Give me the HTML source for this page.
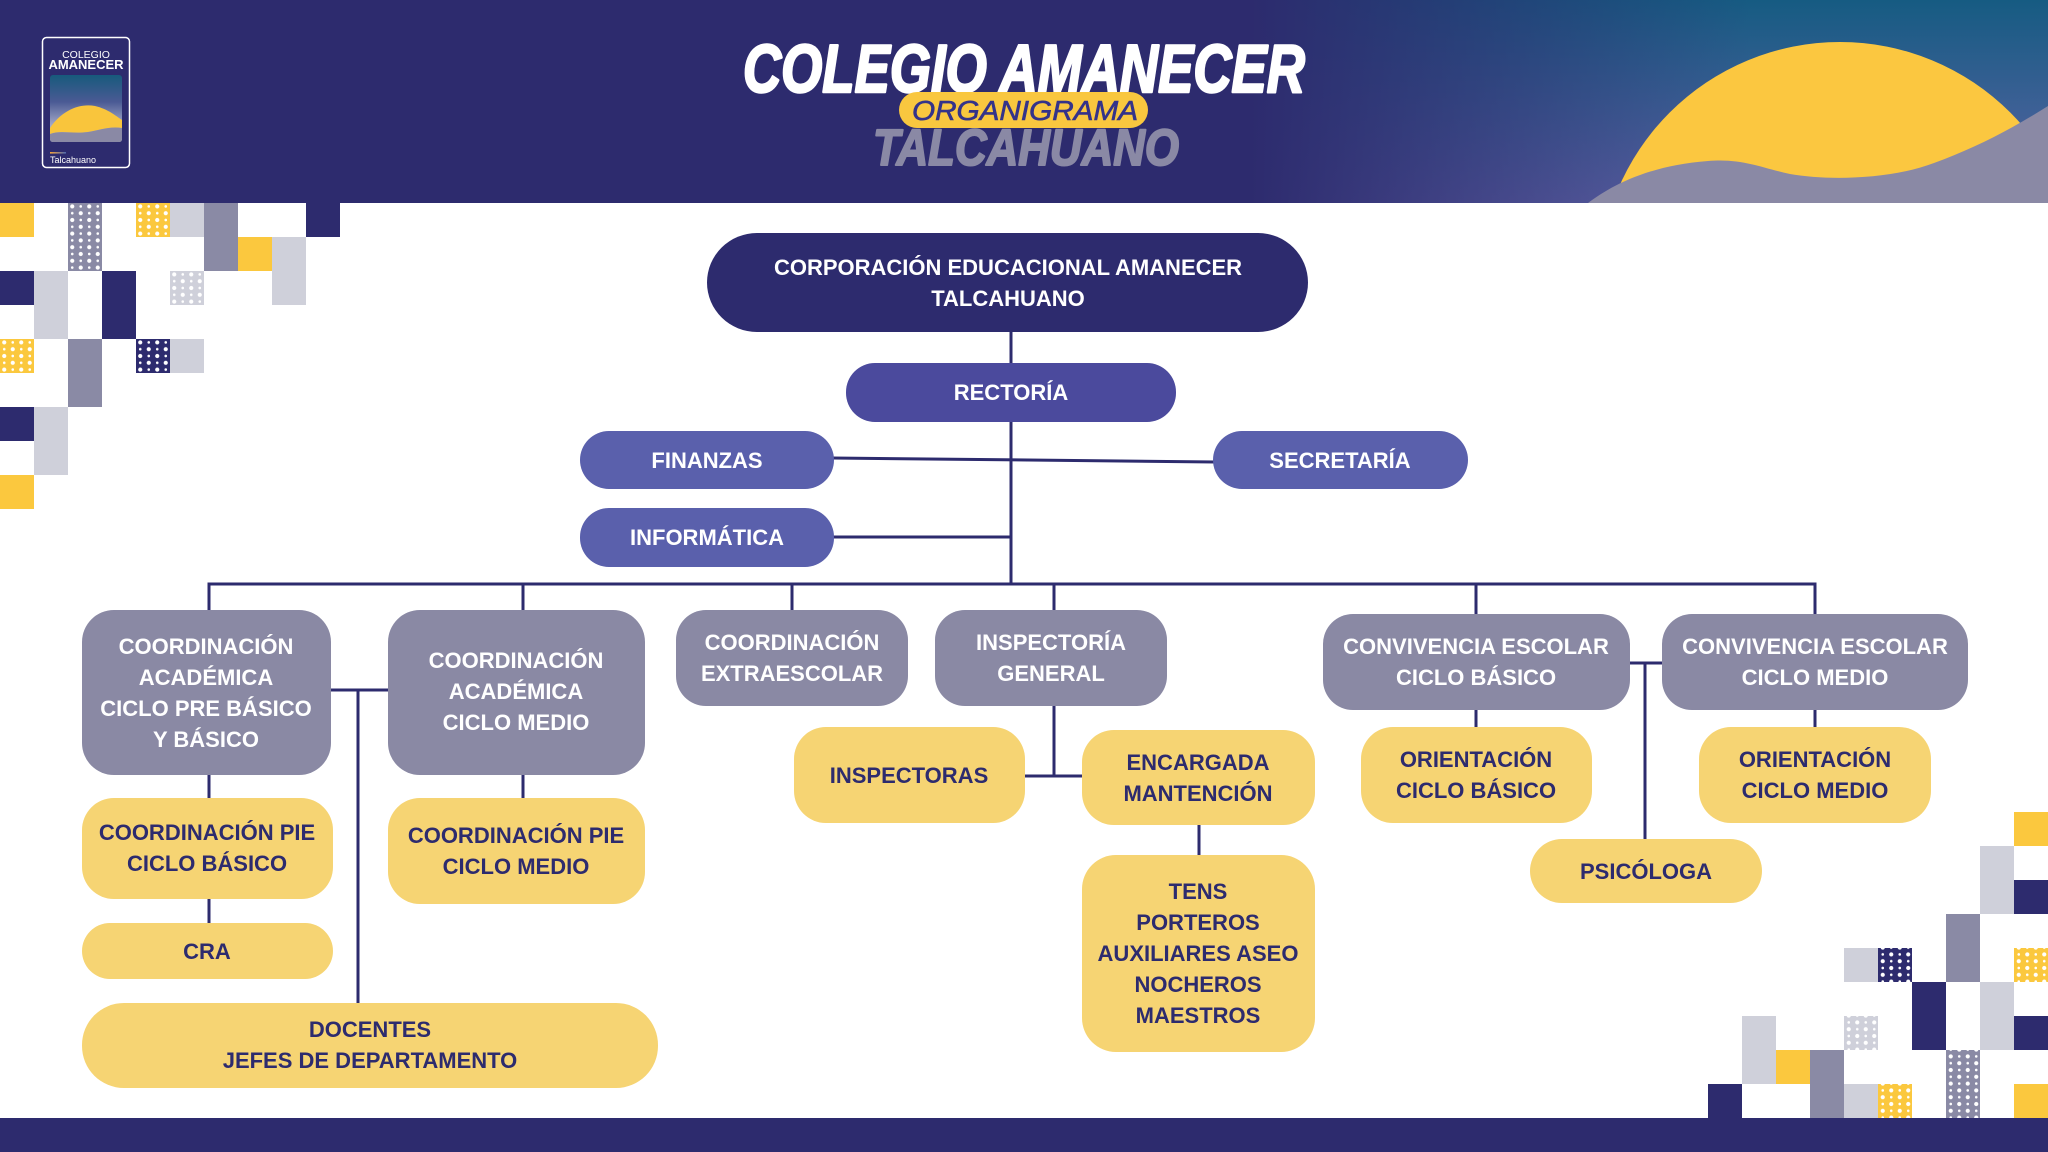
<!DOCTYPE html>
<html>
<head>
<meta charset="utf-8">
<style>
html,body{margin:0;padding:0;background:#fff;}
body{width:2048px;height:1152px;overflow:hidden;}
svg{display:block;}
text{font-family:"Liberation Sans",Arial,sans-serif;}
.w{fill:#ffffff;font-size:22px;font-weight:bold;text-anchor:middle;}
.n{fill:#2d2b6e;font-size:22px;font-weight:bold;text-anchor:middle;}
</style>
</head>
<body>
<svg width="2048" height="1152" viewBox="0 0 2048 1152" xmlns="http://www.w3.org/2000/svg">
<defs>
  <linearGradient id="skyV" x1="0" y1="0" x2="0" y2="1">
    <stop offset="0" stop-color="#165b82"/>
    <stop offset="1" stop-color="#5d64a6"/>
  </linearGradient>
  <linearGradient id="fadeH" x1="0" y1="0" x2="1" y2="0">
    <stop offset="0" stop-color="#2d2b6e" stop-opacity="1"/>
    <stop offset="1" stop-color="#2d2b6e" stop-opacity="0"/>
  </linearGradient>
  <linearGradient id="logoG" x1="0" y1="0" x2="0" y2="1">
    <stop offset="0" stop-color="#175a7c"/>
    <stop offset="0.4" stop-color="#4a5a94"/>
    <stop offset="0.75" stop-color="#a3a8c8"/>
    <stop offset="1" stop-color="#c9cbdc"/>
  </linearGradient>
  <linearGradient id="lineG" x1="0" y1="0" x2="1" y2="0">
    <stop offset="0" stop-color="#f6a23a"/>
    <stop offset="1" stop-color="#4f6bb0"/>
  </linearGradient>
  <clipPath id="hdr"><rect x="0" y="0" width="2048" height="203"/></clipPath>
  <pattern id="dots" x="0" y="203" width="17" height="13.6" patternUnits="userSpaceOnUse">
    <circle cx="4.25" cy="3.4" r="2.1" fill="#fff"/>
    <circle cx="12.75" cy="3.4" r="1.3" fill="#fff"/>
    <circle cx="4.25" cy="10.2" r="1.3" fill="#fff"/>
    <circle cx="12.75" cy="10.2" r="2.1" fill="#fff"/>
  </pattern>
</defs>

<!-- HEADER -->
<rect x="0" y="0" width="2048" height="203" fill="#2d2b6e"/>
<rect x="1250" y="0" width="798" height="203" fill="url(#skyV)"/>
<rect x="1250" y="0" width="500" height="203" fill="url(#fadeH)"/>
<g clip-path="url(#hdr)">
  <circle cx="1840" cy="283" r="241" fill="#fbc740"/>
  <path d="M1588 203 C1603 192 1640 166 1708 161 C1742 158 1762 168 1790 174 C1830 181 1892 179 1934 163 C1975 148 2010 130 2048 106 L2048 203 Z" fill="#8a89a5"/>
</g>

<!-- logo -->
<rect x="42.5" y="37.5" width="87" height="130" rx="4" fill="none" stroke="#ffffff" stroke-width="1.5"/>
<text x="86" y="58" font-size="10.5" fill="#fff" text-anchor="middle">COLEGIO</text>
<text x="86" y="69" font-size="13" font-weight="bold" fill="#fff" text-anchor="middle">AMANECER</text>
<rect x="50" y="75" width="72" height="67" rx="3" fill="url(#logoG)"/>
<path d="M50 128 C62 110 80 103 95 106 C108 109 116 116 122 120 L122 128 C110 126 100 130 88 132 C72 134 60 130 50 134 Z" fill="#f9c53c"/>
<path d="M50 134 C60 130 72 134 88 132 C100 130 110 126 122 128 L122 139 Q122 142 119 142 L53 142 Q50 142 50 139 Z" fill="#8a89a5"/>
<rect x="50" y="152" width="16" height="1.6" fill="url(#lineG)"/>
<text x="50" y="163" font-size="9" fill="#fff">Talcahuano</text>

<!-- title -->
<text x="1024" y="92" font-size="68" font-weight="bold" font-style="italic" fill="#ffffff" stroke="#ffffff" stroke-width="2.5" stroke-linejoin="round" text-anchor="middle" textLength="562" lengthAdjust="spacingAndGlyphs">COLEGIO AMANECER</text>
<text x="1026" y="165" font-size="51" font-weight="bold" font-style="italic" fill="#8a89a5" stroke="#8a89a5" stroke-width="2" stroke-linejoin="round" text-anchor="middle" textLength="306" lengthAdjust="spacingAndGlyphs">TALCAHUANO</text>
<rect x="899" y="92" width="249" height="36" rx="18" fill="#f9c73f"/>
<text x="1025" y="120" font-size="27.5" font-style="italic" fill="#34338a" stroke="#34338a" stroke-width="0.6" text-anchor="middle" textLength="226" lengthAdjust="spacingAndGlyphs">ORGANIGRAMA</text>

<!-- TOP-LEFT SQUARES -->
<g>
  <rect x="0" y="203" width="34" height="34" fill="#fbc83e"/>
  <rect x="68" y="203" width="34" height="68" fill="#8a8aa5"/><rect x="68" y="203" width="34" height="68" fill="url(#dots)"/>
  <rect x="136" y="203" width="34" height="34" fill="#fbc83e"/><rect x="136" y="203" width="34" height="34" fill="url(#dots)"/>
  <rect x="170" y="203" width="34" height="34" fill="#cfd0da"/>
  <rect x="204" y="203" width="34" height="68" fill="#8a8aa5"/>
  <rect x="306" y="200" width="34" height="37" fill="#2d2b6e"/>
  <rect x="238" y="237" width="34" height="34" fill="#fbc83e"/>
  <rect x="272" y="237" width="34" height="68" fill="#cfd0da"/>
  <rect x="0" y="271" width="34" height="34" fill="#2d2b6e"/>
  <rect x="34" y="271" width="34" height="68" fill="#cfd0da"/>
  <rect x="102" y="271" width="34" height="68" fill="#2d2b6e"/>
  <rect x="170" y="271" width="34" height="34" fill="#cfd0da"/><rect x="170" y="271" width="34" height="34" fill="url(#dots)"/>
  <rect x="0" y="339" width="34" height="34" fill="#fbc83e"/><rect x="0" y="339" width="34" height="34" fill="url(#dots)"/>
  <rect x="68" y="339" width="34" height="68" fill="#8a8aa5"/>
  <rect x="136" y="339" width="34" height="34" fill="#2d2b6e"/><rect x="136" y="339" width="34" height="34" fill="url(#dots)"/>
  <rect x="170" y="339" width="34" height="34" fill="#cfd0da"/>
  <rect x="0" y="407" width="34" height="34" fill="#2d2b6e"/>
  <rect x="34" y="407" width="34" height="68" fill="#cfd0da"/>
  <rect x="0" y="475" width="34" height="34" fill="#fbc83e"/>
</g>

<!-- BOTTOM-RIGHT SQUARES -->
<g>
  <rect x="2014" y="812" width="34" height="34" fill="#fbc83e"/>
  <rect x="1980" y="846" width="34" height="68" fill="#cfd0da"/>
  <rect x="2014" y="880" width="34" height="34" fill="#2d2b6e"/>
  <rect x="1946" y="914" width="34" height="68" fill="#8a8aa5"/>
  <rect x="1844" y="948" width="34" height="34" fill="#cfd0da"/>
  <rect x="1878" y="948" width="34" height="34" fill="#2d2b6e"/><rect x="1878" y="948" width="34" height="34" fill="url(#dots)"/>
  <rect x="2014" y="948" width="34" height="34" fill="#fbc83e"/><rect x="2014" y="948" width="34" height="34" fill="url(#dots)"/>
  <rect x="1912" y="982" width="34" height="68" fill="#2d2b6e"/>
  <rect x="1980" y="982" width="34" height="68" fill="#cfd0da"/>
  <rect x="2014" y="1016" width="34" height="34" fill="#2d2b6e"/>
  <rect x="1742" y="1016" width="34" height="68" fill="#cfd0da"/>
  <rect x="1844" y="1016" width="34" height="34" fill="#cfd0da"/><rect x="1844" y="1016" width="34" height="34" fill="url(#dots)"/>
  <rect x="1776" y="1050" width="34" height="34" fill="#fbc83e"/>
  <rect x="1810" y="1050" width="34" height="68" fill="#8a8aa5"/>
  <rect x="1946" y="1050" width="34" height="68" fill="#8a8aa5"/><rect x="1946" y="1050" width="34" height="68" fill="url(#dots)"/>
  <rect x="1708" y="1084" width="34" height="34" fill="#2d2b6e"/>
  <rect x="1844" y="1084" width="34" height="34" fill="#cfd0da"/>
  <rect x="1878" y="1084" width="34" height="34" fill="#fbc83e"/><rect x="1878" y="1084" width="34" height="34" fill="url(#dots)"/>
  <rect x="2014" y="1084" width="34" height="34" fill="#fbc83e"/>
</g>

<!-- BOTTOM BAR -->
<rect x="0" y="1118" width="2048" height="34" fill="#2d2b6e"/>

<!-- CONNECTORS -->
<g stroke="#2d2b6e" stroke-width="3" fill="none">
  <line x1="1011" y1="330" x2="1011" y2="585"/>
  <line x1="832" y1="458" x2="1215" y2="462"/>
  <line x1="832" y1="537" x2="1011" y2="537"/>
  <line x1="207.5" y1="584" x2="1816.5" y2="584"/>
  <line x1="209" y1="584" x2="209" y2="612"/>
  <line x1="523" y1="584" x2="523" y2="612"/>
  <line x1="792" y1="584" x2="792" y2="612"/>
  <line x1="1054" y1="584" x2="1054" y2="612"/>
  <line x1="1476" y1="584" x2="1476" y2="616"/>
  <line x1="1815" y1="584" x2="1815" y2="616"/>
  <line x1="209" y1="773" x2="209" y2="800"/>
  <line x1="209" y1="897" x2="209" y2="925"/>
  <line x1="523" y1="773" x2="523" y2="800"/>
  <line x1="329" y1="690" x2="390" y2="690"/>
  <line x1="358" y1="690" x2="358" y2="1005"/>
  <line x1="1054" y1="704" x2="1054" y2="777"/>
  <line x1="1023" y1="776" x2="1084" y2="776"/>
  <line x1="1199" y1="823" x2="1199" y2="857"/>
  <line x1="1476" y1="708" x2="1476" y2="729"/>
  <line x1="1815" y1="708" x2="1815" y2="729"/>
  <line x1="1628" y1="663" x2="1664" y2="663"/>
  <line x1="1645" y1="663" x2="1645" y2="841"/>
</g>

<!-- TOP NODES -->
<rect x="707" y="233" width="601" height="99" rx="50" fill="#2d2b6e"/>
<text class="w" x="1008" y="275">CORPORACIÓN EDUCACIONAL AMANECER</text>
<text class="w" x="1008" y="306">TALCAHUANO</text>

<rect x="846" y="363" width="330" height="59" rx="29" fill="#4b4a9d"/>
<text class="w" x="1011" y="400">RECTORÍA</text>

<rect x="580" y="431" width="254" height="58" rx="29" fill="#5a60ac"/>
<text class="w" x="707" y="468">FINANZAS</text>

<rect x="1213" y="431" width="255" height="58" rx="29" fill="#5a60ac"/>
<text class="w" x="1340" y="468">SECRETARÍA</text>

<rect x="580" y="508" width="254" height="59" rx="29" fill="#5a60ac"/>
<text class="w" x="707" y="545">INFORMÁTICA</text>

<!-- GRAY NODES -->
<rect x="82" y="610" width="249" height="165" rx="32" fill="#8a89a4"/>
<text class="w" x="206" y="654">COORDINACIÓN</text>
<text class="w" x="206" y="685">ACADÉMICA</text>
<text class="w" x="206" y="716">CICLO PRE BÁSICO</text>
<text class="w" x="206" y="747">Y BÁSICO</text>

<rect x="388" y="610" width="257" height="165" rx="32" fill="#8a89a4"/>
<text class="w" x="516" y="668">COORDINACIÓN</text>
<text class="w" x="516" y="699">ACADÉMICA</text>
<text class="w" x="516" y="730">CICLO MEDIO</text>

<rect x="676" y="610" width="232" height="96" rx="30" fill="#8a89a4"/>
<text class="w" x="792" y="650">COORDINACIÓN</text>
<text class="w" x="792" y="681">EXTRAESCOLAR</text>

<rect x="935" y="610" width="232" height="96" rx="30" fill="#8a89a4"/>
<text class="w" x="1051" y="650">INSPECTORÍA</text>
<text class="w" x="1051" y="681">GENERAL</text>

<rect x="1323" y="614" width="307" height="96" rx="30" fill="#8a89a4"/>
<text class="w" x="1476" y="654">CONVIVENCIA ESCOLAR</text>
<text class="w" x="1476" y="685">CICLO BÁSICO</text>

<rect x="1662" y="614" width="306" height="96" rx="30" fill="#8a89a4"/>
<text class="w" x="1815" y="654">CONVIVENCIA ESCOLAR</text>
<text class="w" x="1815" y="685">CICLO MEDIO</text>

<!-- YELLOW NODES -->
<rect x="82" y="798" width="251" height="101" rx="32" fill="#f6d473"/>
<text class="n" x="207" y="840">COORDINACIÓN PIE</text>
<text class="n" x="207" y="871">CICLO BÁSICO</text>

<rect x="82" y="923" width="251" height="56" rx="28" fill="#f6d473"/>
<text class="n" x="207" y="959">CRA</text>

<rect x="82" y="1003" width="576" height="85" rx="42" fill="#f6d473"/>
<text class="n" x="370" y="1037">DOCENTES</text>
<text class="n" x="370" y="1068">JEFES DE DEPARTAMENTO</text>

<rect x="388" y="798" width="257" height="106" rx="32" fill="#f6d473"/>
<text class="n" x="516" y="843">COORDINACIÓN PIE</text>
<text class="n" x="516" y="874">CICLO MEDIO</text>

<rect x="794" y="727" width="231" height="96" rx="32" fill="#f6d473"/>
<text class="n" x="909" y="783">INSPECTORAS</text>

<rect x="1082" y="730" width="233" height="95" rx="32" fill="#f6d473"/>
<text class="n" x="1198" y="770">ENCARGADA</text>
<text class="n" x="1198" y="801">MANTENCIÓN</text>

<rect x="1082" y="855" width="233" height="197" rx="34" fill="#f6d473"/>
<text class="n" x="1198" y="899">TENS</text>
<text class="n" x="1198" y="930">PORTEROS</text>
<text class="n" x="1198" y="961">AUXILIARES ASEO</text>
<text class="n" x="1198" y="992">NOCHEROS</text>
<text class="n" x="1198" y="1023">MAESTROS</text>

<rect x="1361" y="727" width="231" height="96" rx="32" fill="#f6d473"/>
<text class="n" x="1476" y="767">ORIENTACIÓN</text>
<text class="n" x="1476" y="798">CICLO BÁSICO</text>

<rect x="1699" y="727" width="232" height="96" rx="32" fill="#f6d473"/>
<text class="n" x="1815" y="767">ORIENTACIÓN</text>
<text class="n" x="1815" y="798">CICLO MEDIO</text>

<rect x="1530" y="839" width="232" height="64" rx="32" fill="#f6d473"/>
<text class="n" x="1646" y="879">PSICÓLOGA</text>
</svg>
</body>
</html>
